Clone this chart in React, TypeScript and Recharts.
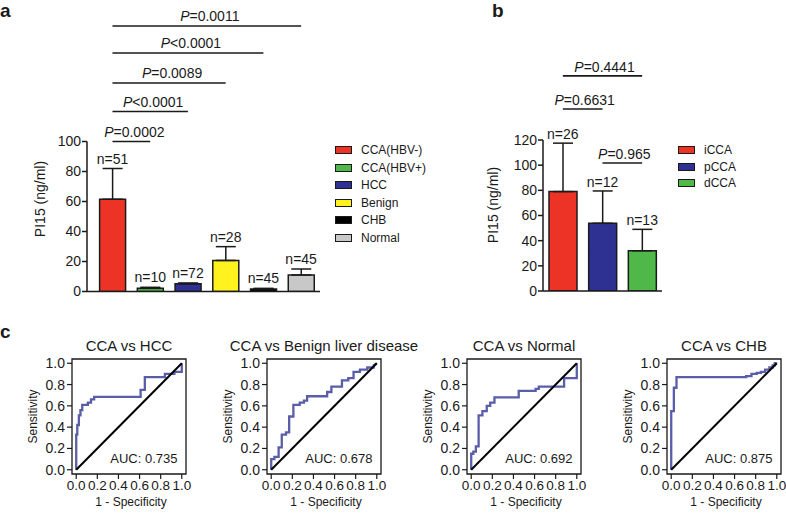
import React from "react";
import {
  Bar,
  Cell,
  ComposedChart,
  ErrorBar,
  LabelList,
  Line,
  LineChart,
  ReferenceArea,
  ReferenceLine,
  XAxis,
  YAxis,
} from "recharts";

const FONT = "Arial, 'Liberation Sans', Helvetica, sans-serif";
const INK = "#1a1a1a";

// panel a: PI15 by group
const groupsA = ["CCA(HBV-)", "CCA(HBV+)", "HCC", "Benign", "CHB", "Normal"];
const meanA = [61.5, 2.1, 5.1, 20.7, 1.6, 11];
const semA = [20.5, 0.7, 0.6, 9.2, 0.5, 4];
const nA = [51, 10, 72, 28, 45, 45];
const colorsA = ["#ec3325", "#4fb848", "#2e3192", "#fff21f", "#000000", "#c8c8c8"];
const pTextA = ["=0.0002", "<0.0001", "=0.0089", "<0.0001", "=0.0011"];
const pToA = ["CCA(HBV+)", "HCC", "Benign", "CHB", "Normal"];
const pLevelA = [100, 120, 139, 159, 177];
const ticksA = [0, 20, 40, 60, 80, 100];

// panel b: PI15 by CCA subtype
const groupsB = ["iCCA", "pCCA", "dCCA"];
const meanB = [79, 53.8, 32];
const semB = [38.5, 25.7, 17];
const nB = [26, 12, 13];
const colorsB = ["#ec3325", "#2e3192", "#4fb848"];
const pTextB = ["=0.4441", "=0.6631", "=0.965"];
const pFromB = ["iCCA", "iCCA", "pCCA"];
const pToB = ["dCCA", "pCCA", "dCCA"];
const pLevelB = [171, 144.6, 101.7];
const ticksB = [0, 20, 40, 60, 80, 100, 120];

// panel c: ROC curves (1 - specificity, sensitivity)
const hccFpr = [0, 0, 0.01, 0.01, 0.025, 0.025, 0.04, 0.04, 0.057, 0.057, 0.11, 0.11, 0.14, 0.14, 0.17, 0.17, 0.61, 0.61, 0.65, 0.65, 0.84, 0.84, 0.93, 0.93, 1, 1];
const hccTpr = [0, 0.33, 0.33, 0.42, 0.42, 0.51, 0.51, 0.56, 0.56, 0.61, 0.61, 0.63, 0.63, 0.66, 0.66, 0.685, 0.685, 0.75, 0.75, 0.87, 0.87, 0.9, 0.9, 0.92, 0.92, 1];
const benignFpr = [0, 0, 0.03, 0.03, 0.07, 0.07, 0.1, 0.1, 0.14, 0.14, 0.17, 0.17, 0.21, 0.21, 0.27, 0.27, 0.31, 0.31, 0.34, 0.34, 0.53, 0.53, 0.57, 0.57, 0.67, 0.67, 0.73, 0.73, 0.78, 0.78, 0.84, 0.84, 0.91, 0.91, 0.97, 0.97, 1];
const benignTpr = [0, 0.1, 0.1, 0.12, 0.12, 0.21, 0.21, 0.33, 0.33, 0.35, 0.35, 0.5, 0.5, 0.61, 0.61, 0.63, 0.63, 0.65, 0.65, 0.69, 0.69, 0.73, 0.73, 0.78, 0.78, 0.84, 0.84, 0.86, 0.86, 0.92, 0.92, 0.94, 0.94, 0.96, 0.96, 0.98, 1];
const normalFpr = [0, 0, 0.02, 0.02, 0.044, 0.044, 0.07, 0.07, 0.106, 0.106, 0.147, 0.147, 0.18, 0.18, 0.22, 0.22, 0.45, 0.45, 0.61, 0.61, 0.64, 0.64, 0.88, 0.88, 1, 1];
const normalTpr = [0, 0.15, 0.15, 0.17, 0.17, 0.22, 0.22, 0.51, 0.51, 0.55, 0.55, 0.6, 0.6, 0.63, 0.63, 0.68, 0.68, 0.74, 0.74, 0.76, 0.76, 0.78, 0.78, 0.86, 0.86, 1];
const chbFpr = [0, 0, 0.025, 0.025, 0.05, 0.05, 0.71, 0.71, 0.76, 0.76, 0.81, 0.81, 0.85, 0.85, 0.89, 0.89, 0.93, 0.93, 0.96, 0.96, 0.98, 0.98, 1];
const chbTpr = [0, 0.55, 0.55, 0.77, 0.77, 0.87, 0.87, 0.88, 0.88, 0.9, 0.9, 0.91, 0.91, 0.92, 0.92, 0.94, 0.94, 0.96, 0.96, 0.98, 0.98, 1, 1];
const diagX = [0, 1];
const rocTicks = [0, 0.2, 0.4, 0.6, 0.8, 1];

const rocPanels = [
  { title: "CCA vs HCC", fpr: hccFpr, tpr: hccTpr, auc: "AUC: 0.735", left: 72 },
  { title: "CCA vs Benign liver disease", fpr: benignFpr, tpr: benignTpr, auc: "AUC: 0.678", left: 267 },
  { title: "CCA vs Normal", fpr: normalFpr, tpr: normalTpr, auc: "AUC: 0.692", left: 467 },
  { title: "CCA vs CHB", fpr: chbFpr, tpr: chbTpr, auc: "AUC: 0.875", left: 667 },
];

// rotated axis title, placed relative to the axis box
function sideTitle(text: string, fromRight: number, dy: number | null, size: number) {
  return (props: any) => {
    const vb = props.viewBox;
    const x = vb.x + vb.width - fromRight;
    const y = dy == null ? vb.y + vb.height / 2 : vb.y + dy;
    return (
      <text x={x} y={y} transform={`rotate(-90 ${x} ${y})`} textAnchor="middle" fontSize={size} fill={INK}>
        {text}
      </text>
    );
  };
}

function pLabel(sign: string, dx: number, lift: number) {
  return (props: any) => {
    const vb = props.viewBox;
    return (
      <text x={vb.x + vb.width / 2 + dx} y={vb.y - lift} textAnchor="middle" fontSize={14} fill={INK}>
        <tspan fontStyle="italic">P</tspan>
        {sign}
      </text>
    );
  };
}

function KeyList({ names, colors, left, top, rowH }: { names: string[]; colors: string[]; left: number; top: number; rowH: number }) {
  return (
    <div style={{ position: "absolute", left, top, fontSize: 12, color: INK }}>
      {names.map((name, i) => (
        <div key={name} style={{ display: "flex", alignItems: "center", height: rowH, whiteSpace: "nowrap" }}>
          <span
            style={{
              width: 15,
              height: 6,
              border: `1.2px solid ${INK}`,
              background: colors[i],
              marginRight: 9,
              display: "inline-block",
            }}
          />
          <span>{name}</span>
        </div>
      ))}
    </div>
  );
}

function PanelLetter({ ch, left, top }: { ch: string; left: number; top: number }) {
  return (
    <div style={{ position: "absolute", left, top, fontSize: 19, lineHeight: "22px", fontWeight: "bold", color: INK }}>
      {ch}
    </div>
  );
}

const axisStroke = { stroke: INK, strokeWidth: 1.5 };

function PanelA() {
  const data = groupsA.map((g, i) => ({ group: g, mean: meanA[i], err: [0, semA[i]], top: meanA[i] + semA[i], n: nA[i] }));
  return (
    <div style={{ position: "absolute", left: 0, top: 0 }}>
      <ComposedChart width={325} height={300} data={data} margin={{ top: 141.5, right: 5, bottom: 2.5, left: 0 }}>
        <XAxis dataKey="group" padding={{ left: 6.6, right: 0 }} tick={false} height={6} tickSize={5} axisLine={axisStroke} tickLine={axisStroke} />
        <YAxis
          domain={[0, 100]}
          ticks={ticksA}
          allowDataOverflow
          width={87}
          tickSize={5}
          tickMargin={1}
          axisLine={axisStroke}
          tickLine={axisStroke}
          tick={{ fill: INK, fontSize: 14 }}
          label={sideTitle("PI15 (ng/ml)", 42, 57.5, 14)}
        />
        <Bar dataKey="mean" barSize={26} stroke={INK} strokeWidth={1.5} isAnimationActive={false}>
          {data.map((d, i) => (
            <Cell key={d.group} fill={colorsA[i]} />
          ))}
          <ErrorBar dataKey="err" width={10} stroke={INK} strokeWidth={1.5} direction="y" />
        </Bar>
        <Line dataKey="top" stroke="none" dot={false} activeDot={false} legendType="none" isAnimationActive={false}>
          <LabelList dataKey="n" position="top" offset={5} formatter={(v: any) => `n=${v}`} fill={INK} fontSize={14} />
        </Line>
        {pToA.map((to, i) => (
          <ReferenceLine
            key={`pa${i}`}
            segment={[
              { x: groupsA[0], y: pLevelA[i] },
              { x: to, y: pLevelA[i] },
            ]}
            stroke={INK}
            strokeWidth={1.6}
            ifOverflow="visible"
            label={pLabel(pTextA[i], 3, 5)}
          />
        ))}
      </ComposedChart>
    </div>
  );
}

function PanelB() {
  const data = groupsB.map((g, i) => ({ group: g, mean: meanB[i], err: [0, semB[i]], top: meanB[i] + semB[i], n: nB[i] }));
  return (
    <div style={{ position: "absolute", left: 452, top: 0 }}>
      <ComposedChart width={220} height={300} data={data} margin={{ top: 140, right: 10, bottom: 3, left: 0 }}>
        <XAxis dataKey="group" tick={false} height={6} tickSize={5} axisLine={axisStroke} tickLine={axisStroke} />
        <YAxis
          domain={[0, 120]}
          ticks={ticksB}
          allowDataOverflow
          width={91}
          tickSize={5}
          tickMargin={1}
          axisLine={axisStroke}
          tickLine={axisStroke}
          tick={{ fill: INK, fontSize: 14 }}
          label={sideTitle("PI15 (ng/ml)", 45, 65, 14)}
        />
        <Bar dataKey="mean" barSize={28} stroke={INK} strokeWidth={1.5} isAnimationActive={false}>
          {data.map((d, i) => (
            <Cell key={d.group} fill={colorsB[i]} />
          ))}
          <ErrorBar dataKey="err" width={10} stroke={INK} strokeWidth={1.5} direction="y" />
        </Bar>
        <Line dataKey="top" stroke="none" dot={false} activeDot={false} legendType="none" isAnimationActive={false}>
          <LabelList dataKey="n" position="top" offset={4} formatter={(v: any) => `n=${v}`} fill={INK} fontSize={14} />
        </Line>
        {pToB.map((to, i) => (
          <ReferenceLine
            key={`pb${i}`}
            segment={[
              { x: pFromB[i], y: pLevelB[i] },
              { x: to, y: pLevelB[i] },
            ]}
            stroke={INK}
            strokeWidth={1.6}
            ifOverflow="visible"
            label={pLabel(pTextB[i], 2, 4)}
          />
        ))}
      </ComposedChart>
    </div>
  );
}

function RocPanel({ title, fpr, tpr, auc, left }: { title: string; fpr: number[]; tpr: number[]; auc: string; left: number }) {
  const curve = fpr.map((x, i) => ({ x, y: tpr[i] }));
  const diag = diagX.map((x) => ({ x, y: x }));
  return (
    <div style={{ position: "absolute", left: left - 62, top: 350.5 }}>
      <div
        style={{
          position: "absolute",
          left: 62 - 60,
          width: 114 + 120,
          top: -13,
          textAlign: "center",
          fontSize: 15,
          lineHeight: "15px",
          color: INK,
          whiteSpace: "nowrap",
        }}
      >
        {title}
      </div>
      <LineChart width={196} height={163} margin={{ top: 8, right: 20, bottom: 0, left: 0 }}>
        <XAxis
          type="number"
          dataKey="x"
          domain={[-0.04, 1.04]}
          allowDataOverflow
          ticks={rocTicks}
          interval={0}
          tickFormatter={(v: number) => v.toFixed(1)}
          axisLine={false}
          tickSize={5}
          tickMargin={1}
          tickLine={{ stroke: INK, strokeWidth: 1.2 }}
          tick={{ fill: INK, fontSize: 13.5 }}
          height={40}
          label={(props: any) => {
            const vb = props.viewBox;
            return (
              <text x={vb.x + vb.width / 2 + 2} y={vb.y + 31.5} textAnchor="middle" fontSize={12} fill={INK}>
                1 - Specificity
              </text>
            );
          }}
        />
        <YAxis
          type="number"
          dataKey="y"
          domain={[-0.04, 1.04]}
          allowDataOverflow
          ticks={rocTicks}
          interval={0}
          tickFormatter={(v: number) => v.toFixed(1)}
          axisLine={false}
          tickSize={5}
          tickMargin={2}
          tickLine={{ stroke: INK, strokeWidth: 1.2 }}
          tick={{ fill: INK, fontSize: 14 }}
          width={62}
          label={sideTitle("Sensitivity", 35.5, null, 12)}
        />
        <ReferenceArea
          x1={-0.04}
          x2={1.04}
          y1={-0.04}
          y2={1.04}
          fill="none"
          fillOpacity={0}
          stroke={INK}
          strokeWidth={1.3}
          ifOverflow="visible"
          label={(props: any) => {
            const vb = props.viewBox;
            return (
              <text x={vb.x + vb.width - 8.5} y={vb.y + vb.height - 11} textAnchor="end" fontSize={13} fill={INK}>
                {auc}
              </text>
            );
          }}
        />
        <Line data={curve} dataKey="y" type="linear" stroke="#5a5ea8" strokeWidth={2.3} dot={false} activeDot={false} isAnimationActive={false} />
        <Line data={diag} dataKey="y" type="linear" stroke="#000" strokeWidth={2} dot={false} activeDot={false} isAnimationActive={false} />
      </LineChart>
    </div>
  );
}

export default function App() {
  return (
    <div style={{ position: "absolute", left: 0, top: 0, width: 786, height: 513, background: "#fff", fontFamily: FONT, color: INK }}>
      <PanelLetter ch="a" left={0} top={0} />
      <PanelLetter ch="b" left={492} top={0} />
      <PanelLetter ch="c" left={0} top={321} />
      <PanelA />
      <KeyList names={groupsA} colors={colorsA} left={335} top={141.25} rowH={17.5} />
      <PanelB />
      <KeyList names={groupsB} colors={colorsB} left={678} top={141.65} rowH={16.7} />
      {rocPanels.map((p) => (
        <RocPanel key={p.title} {...p} />
      ))}
    </div>
  );
}
